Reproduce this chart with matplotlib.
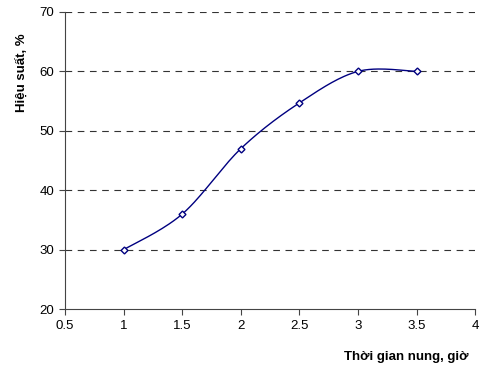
import numpy as np
import matplotlib.pyplot as plt

plt.rcParams['font.family'] = ['Liberation Sans', 'DejaVu Sans']

# Data
time_h = [1.0, 1.5, 2.0, 2.5, 3.0, 3.5]
yield_pct = [30.0, 36.0, 47.0, 54.7, 60.0, 60.0]
x_ticks = [0.5, 1, 1.5, 2, 2.5, 3, 3.5, 4]
y_ticks = [20, 30, 40, 50, 60, 70]


def smooth_curve(x, y, n=30):
    # Excel-style smoothed line: cubic Bezier with Catmull-Rom control points
    x = np.asarray(x)
    y = np.asarray(y)
    px = np.concatenate([[x[0]], x, [x[-1]]])
    py = np.concatenate([[y[0]], y, [y[-1]]])
    xs, ys = [], []
    t = np.linspace(0, 1, n)
    for i in range(1, len(px) - 2):
        p0 = np.array([px[i], py[i]])
        p3 = np.array([px[i + 1], py[i + 1]])
        c1 = p0 + (np.array([px[i + 1], py[i + 1]]) - np.array([px[i - 1], py[i - 1]])) / 6
        c2 = p3 - (np.array([px[i + 2], py[i + 2]]) - np.array([px[i], py[i]])) / 6
        b = ((1 - t) ** 3)[:, None] * p0 + (3 * (1 - t) ** 2 * t)[:, None] * c1 \
            + (3 * (1 - t) * t ** 2)[:, None] * c2 + (t ** 3)[:, None] * p3
        xs.extend(b[:, 0])
        ys.extend(b[:, 1])
    return xs, ys


fig = plt.figure(figsize=(4.82, 3.72), dpi=100)
ax = fig.add_axes([0.135, 0.169, 0.851, 0.799])

sx, sy = smooth_curve(time_h, yield_pct)
ax.plot(sx, sy, color='#000080', linewidth=1.0)
ax.plot(time_h, yield_pct, linestyle='none', marker='D', markersize=3.5,
        markerfacecolor='white', markeredgecolor='#000080', markeredgewidth=1.0)

ax.set_xlim(0.5, 4)
ax.set_ylim(20, 70)
ax.set_xticks(x_ticks)
ax.set_xticklabels(['0.5', '1', '1.5', '2', '2.5', '3', '3.5', '4'])
ax.set_yticks(y_ticks)
ax.tick_params(labelsize=9.5, length=4, width=0.8, color='#444444', pad=4)

for v in y_ticks[1:]:
    ax.axhline(v, color='#333333', linewidth=0.8, linestyle=(0, (6, 5)), zorder=0)

ax.spines['top'].set_visible(False)
ax.spines['right'].set_visible(False)
ax.spines['left'].set_color('#444444')
ax.spines['bottom'].set_color('#444444')

fig.text(0.842, 0.04, 'Thời gian nung, giờ', fontsize=9.5, fontweight='bold',
         ha='center', va='center')
fig.text(0.045, 0.805, 'Hiệu suất, %', fontsize=9.5, fontweight='bold',
         rotation=90, ha='center', va='center')

fig.savefig('out.png', dpi=100)
